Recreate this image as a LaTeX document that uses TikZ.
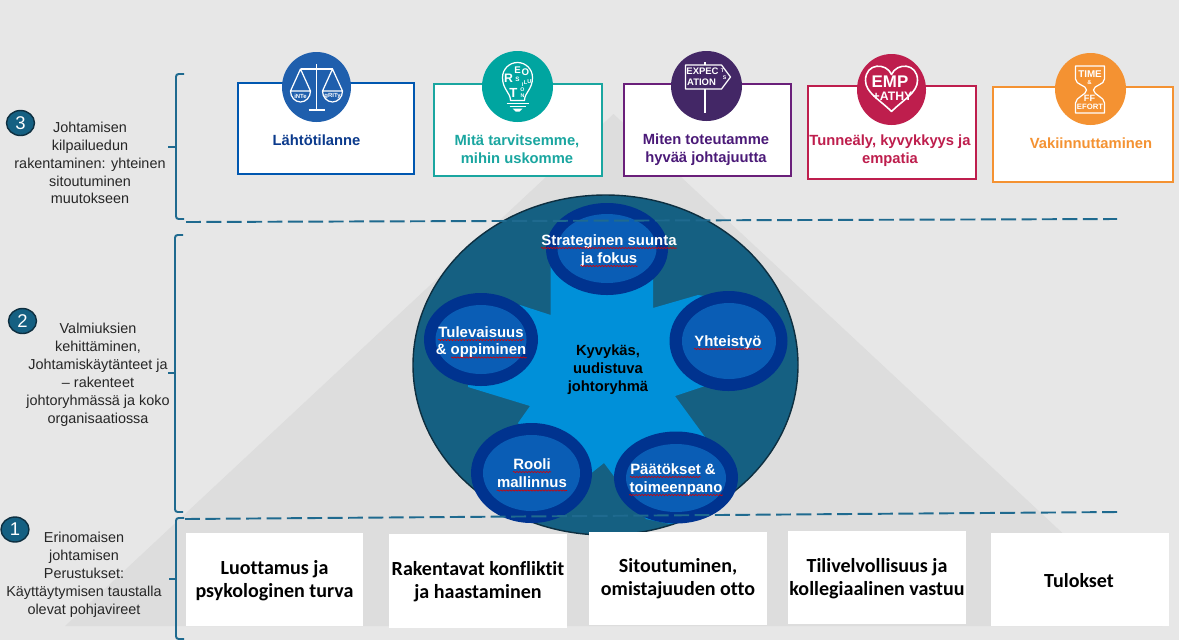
\documentclass[tikz,border=0pt]{standalone}
\usepackage{fontspec}
\setmainfont{Liberation Sans}
\newfontfamily\calfont[Ligatures=NoCommon]{Carlito}
\usetikzlibrary{calc,shapes.geometric,decorations.pathmorphing}
\definecolor{bggray}{HTML}{E7E7E7}
\definecolor{trigray}{HTML}{DDDDDD}
\definecolor{tealline}{HTML}{1F6A8F}
\definecolor{tealfill}{HTML}{156082}
\definecolor{tealdark}{HTML}{0E2F40}
\definecolor{starblue}{HTML}{0090D9}
\definecolor{ringblue}{HTML}{00338F}
\definecolor{coreblue}{HTML}{0A5DB5}
\definecolor{cola}{HTML}{0057B0}
\definecolor{colai}{HTML}{1F5FAD}
\definecolor{colat}{HTML}{0B3A8C}
\definecolor{colb}{HTML}{1AA6A0}
\definecolor{colbi}{HTML}{00A5A0}
\definecolor{colc}{HTML}{6A1F7A}
\definecolor{colci}{HTML}{432766}
\definecolor{colct}{HTML}{4B1A78}
\definecolor{cold}{HTML}{BE1E4D}
\definecolor{cole}{HTML}{F49232}
\tikzset{
  wh/.style 2 args={minimum width=#1*0.02cm,minimum height=#2*0.02cm},
  topbox/.style={rectangle,draw=#1,line width=1.1pt,fill=white,inner sep=0pt},
  icondisc/.style={ellipse,fill=#1,inner sep=0pt},
  toptext/.style={align=center,inner sep=0pt,text=#1,font=\bfseries\fontsize{8.4}{10.2}\selectfont},
  sidetext/.style={align=center,inner sep=0pt,text=black!85,font=\fontsize{8.2}{10.2}\selectfont},
  badge/.style={ellipse,draw=tealdark,line width=0.8pt,fill=tealfill,text=white,inner sep=0pt,
    minimum width=0.56cm,minimum height=0.5cm,font=\fontsize{10.5}{10.5}\selectfont},
  ring/.style={ellipse,fill=ringblue,inner sep=0pt},
  core/.style={ellipse,fill=coreblue,inner sep=0pt},
  ringtext/.style={anchor=base,inner sep=0pt,text=white,font=\bfseries\fontsize{8.5}{10}\selectfont},
  plainbox/.style={rectangle,fill=white,inner sep=0pt},
  basetext/.style={align=center,inner sep=0pt,text=black,font=\calfont\bfseries\fontsize{11.4}{13}\selectfont},
  bracketline/.style={draw=tealline,line width=1.1pt,rounded corners=1.5pt},
  splitline/.style={draw=tealline,line width=1.1pt,dash pattern=on 8.5pt off 3.1pt},
  spellmark/.style={draw=red!85!black,line width=0.35pt,decorate,
    decoration={snake,amplitude=0.35pt,segment length=1.7pt}},
  iconline/.style={draw=white,line width=0.7pt,line join=round},
  iconlet/.style={inner sep=0pt,text=white,font=\bfseries\fontsize{#1}{#1}\selectfont},
  iconlet/.default=4
}
\begin{document}
\begin{tikzpicture}[x=0.02cm,y=-0.02cm]
  \fill[bggray] (0,0) rectangle (1179,640);
  \fill[trigray] (613.5,114) -- (1162,626) -- (65,626) -- cycle;

  \draw[bracketline] (184,74) -- (176,74) -- (176,219) -- (184,219);
  \draw[bracketline] (168,147) -- (176,147);
  \draw[bracketline] (183,235) -- (175,235) -- (175,512) -- (183,512);
  \draw[bracketline] (168,373) -- (175,373);
  \draw[bracketline] (184,518) -- (176,518) -- (176,639) -- (184,639);
  \draw[bracketline] (169,579) -- (176,579);

  \node[badge] (numc) at (20.5,123) {3};
  \node[badge] (numb) at (22.5,321) {2};
  \node[badge] (numa) at (15,529.5) {1};
  \node[sidetext] (sidec) at (90,163) {Johtamisen\\kilpailuedun\\rakentaminen: yhteinen\\sitoutuminen\\muutokseen};
  \node[sidetext] (sideb) at (98,375) {Valmiuksien\\kehittäminen,\\Johtamiskäytänteet ja\\– rakenteet\\johtoryhmässä ja koko\\organisaatiossa};
  \node[sidetext] (sidea) at (84,575) {Erinomaisen\\johtamisen\\Perustukset:\\Käyttäytymisen taustalla\\olevat pohjavireet};

  \node[topbox=cola,wh={176}{91}] (boxa) at (326,128.5) {};
  \node[topbox=colb,wh={168}{92}] (boxb) at (518,130) {};
  \node[topbox=colc,wh={167}{92}] (boxc) at (707.5,130) {};
  \node[topbox=cold,wh={168}{93}] (boxd) at (891.7,132.5) {};
  \node[topbox=cole,wh={180}{95}] (boxe) at (1083,134.5) {};
  \node[icondisc=colai,wh={69}{70}] (disca) at (316.5,87) {};
  \node[icondisc=colbi,wh={71}{71}] (discb) at (517.5,86.5) {};
  \node[icondisc=colci,wh={71}{70}] (discc) at (706.5,86) {};
  \node[icondisc=cold,wh={69}{71}] (discd) at (891.5,89.5) {};
  \node[icondisc=cole,wh={71}{72}] (disce) at (1090.5,89) {};

  \begin{scope}[shift={(316.5,87)}]
    \draw[iconline] (0,-23) -- (0,23) (-8,23) -- (8,23) (-16,-18) -- (16,-18);
    \draw[iconline] (-6,4) -- (-16,-18) -- (-26,4) -- cycle (-26,4) arc[start angle=180,end angle=0,x radius=10,y radius=11];
    \draw[iconline] (6,4) -- (16,-18) -- (26,4) -- cycle (6,4) arc[start angle=180,end angle=0,x radius=10,y radius=11];
    \node[iconlet=3.4] (scalel) at (-16,9) {iNTe};
    \node[iconlet=3.4] (scaler) at (16,9) {gRITy};
  \end{scope}
  \begin{scope}[shift={(517.5,86.5)}]
    \draw[iconline] (-7,14) .. controls (-7,6) and (-15,3) .. (-15,-9)
      arc[start angle=180,end angle=0,x radius=15,y radius=-15]
      .. controls (15,3) and (7,6) .. (7,14) -- cycle;
    \draw[iconline] (-11,17) -- (11,17) (-8,20) -- (8,20);
    \fill[white] (-5,22) -- (5,22) -- (2,25) -- (-2,25) -- cycle;
    \foreach \letter/\px/\py/\sz [count=\i] in {R/-9/-8/7,E/0/-16/5.5,O/8/-14/5.5,S/0/-7/3.6,L/8/-4/3.2,U/12/-5/3.2,T/-4/6/7.5,I/5/-2/3,O/5/3.5/3,N/5/9/3}
      \node[iconlet=\sz] (bulb\i) at (\px,\py) {\letter};
  \end{scope}
  \begin{scope}[shift={(706.5,86)}]
    \draw[iconline] (-1.5,-24) -- (-1.5,-21) (-1.5,3) -- (-1.5,27);
    \draw[iconline] (-21,-21) -- (15,-21) -- (24,-9) -- (15,3) -- (-21,3) -- cycle;
    \node[iconlet=5.4] (signa) at (-4,-15) {EXPEC};
    \node[iconlet=3] (signb) at (16,-15) {T};
    \node[iconlet=5.4] (signc) at (-5,-4) {ATION};
    \node[iconlet=3] (signd) at (18,-8) {S};
  \end{scope}
  \begin{scope}[shift={(891.5,89.5)}]
    \draw[iconline,line width=0.9pt] (0,22) .. controls (-12,10) and (-26,3) .. (-26,-9)
      .. controls (-26,-27) and (-5,-27) .. (0,-15)
      .. controls (5,-27) and (26,-27) .. (26,-9)
      .. controls (26,3) and (12,10) .. (0,22) -- cycle;
    \node[iconlet=9.6] (hearta) at (-1.5,-8) {EMP};
    \node[iconlet=7] (heartb) at (1,7) {+ATHY};
  \end{scope}
  \begin{scope}[shift={(1090.5,89)}]
    \draw[iconline] (-15,-23) -- (14,-23) -- (14,-10) .. controls (14,-4) and (3,-4) .. (3,1)
      .. controls (3,6) and (14,8) .. (14,14) -- (14,24) -- (-15,24) -- (-15,14)
      .. controls (-15,8) and (-4,6) .. (-4,1) .. controls (-4,-4) and (-15,-4) .. (-15,-10) -- cycle;
    \node[iconlet=5.6] (timea) at (-0.5,-15) {TIME};
    \node[iconlet=3.4] (timeb) at (-1,-6.5) {\&};
    \node[iconlet=5.2] (timec) at (-1,9) {FF};
    \node[iconlet=4.4] (timed) at (-0.5,18) {EFORT};
  \end{scope}

  \node[toptext=colat] (texta) at (316.5,140) {Lähtötilanne};
  \node[toptext=colb] (textb) at (517,149) {Mitä tarvitsemme,\\mihin uskomme};
  \node[toptext=colct] (textc) at (706,150) {Miten toteutamme\\hyvää johtajuutta};
  \node[toptext=cold] (textd) at (890,151) {Tunneäly, kyvykkyys ja\\empatia};
  \node[toptext=cole] (texte) at (1091,143) {Vakiinnuttaminen};

  \node[ellipse,draw=tealdark,line width=0.8pt,fill=tealfill,inner sep=0pt,wh={385}{340}] (bigoval) at (605.5,365) {};
  \fill[starblue] (550.7,315) -- (550.7,235) -- (653,235) -- (653,308) -- (698,295) -- (712,297) -- (735,340) -- (705,386)
    -- (675,396) -- (705,437) -- (695,519) -- (670,524) -- (646,519) -- (604,463) -- (570,490) -- (518,423) -- (530,406)
    -- (468,387) -- (470,330) -- (520,305) -- cycle;

  \node[ring,wh={122}{92}] (ringa) at (607,249) {};
  \node[core,wh={99}{69}] (corea) at (607,248.5) {};
  \node[ring,wh={118}{100}] (ringb) at (728.5,341) {};
  \node[core,wh={94}{76}] (coreb) at (729,341) {};
  \node[ring,wh={124}{92}] (ringc) at (676,477.5) {};
  \node[core,wh={100}{68}] (corec) at (676,478) {};
  \node[ring,wh={121}{100}] (ringd) at (531.5,473) {};
  \node[core,wh={97}{76}] (cored) at (531.5,473) {};
  \node[ring,wh={114}{93}] (ringe) at (481,339.5) {};
  \node[core,wh={91}{69}] (coree) at (481,339.5) {};

  \draw[splitline] (186,222) -- (1117,219);
  \draw[splitline] (185,519) -- (1117,512);

  \node[plainbox,wh={177}{93}] (basea) at (274.5,579.5) {};
  \node[plainbox,wh={178}{94}] (baseb) at (478,581) {};
  \node[plainbox,wh={178}{93}] (basec) at (678,578.5) {};
  \node[plainbox,wh={178}{93}] (based) at (877,577.5) {};
  \node[plainbox,wh={178}{93}] (basee) at (1080,579.5) {};
  \node[basetext] (basetexta) at (274.5,581) {Luottamus ja\\psykologinen turva};
  \node[basetext] (basetextb) at (478,581.5) {Rakentavat konfliktit\\ja haastaminen};
  \node[basetext] (basetextc) at (678,579) {Sitoutuminen,\\omistajuuden otto};
  \node[basetext] (basetextd) at (877,578.5) {Tilivelvollisuus ja\\kollegiaalinen vastuu};
  \node[basetext] (basetexte) at (1079,581) {Tulokset};

  \node[align=center,inner sep=0pt,font=\bfseries\fontsize{8.4}{10.2}\selectfont] (hubtext) at (608,370) {Kyvykäs,\\uudistuva\\johtoryhmä};
  \node[ringtext] (rta) at (609,245) {Strateginen suunta};
  \node[ringtext] (rtb) at (609,263) {ja fokus};
  \node[ringtext] (rtc) at (481,337) {Tulevaisuus};
  \node[ringtext] (rtd) at (481,354.5) {\& oppiminen};
  \node[ringtext] (rte) at (728,346) {Yhteistyö};
  \node[ringtext] (rtf) at (532,469) {Rooli};
  \node[ringtext] (rtg) at (532,487.5) {mallinnus};
  \node[ringtext] (rth) at (673,474) {Päätökset \&};
  \node[ringtext] (rti) at (676,492) {toimeenpano};
  \foreach \n/\sa/\sb in {rta/0/1,rtb/0/1,rtc/0/1,rtd/0.17/1,rte/0/1,rtf/0/1,rtg/0/1,rth/0/0.82,rti/0/1}
    \draw[spellmark] ($(\n.base west)!\sa!(\n.base east)+(0,3)$) -- ($(\n.base west)!\sb!(\n.base east)+(0,3)$);
\end{tikzpicture}
\end{document}
